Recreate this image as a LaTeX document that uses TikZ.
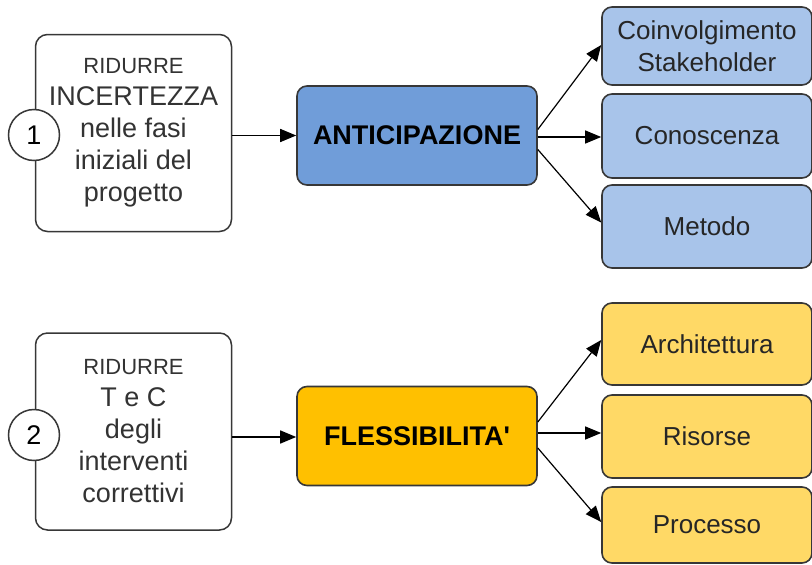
\documentclass[tikz,border=0pt]{standalone}
\usepackage{fontspec}
\setmainfont{Liberation Sans}
% same family without TeX quote ligatures, for a straight apostrophe
\newfontfamily\straightsans{Liberation Sans}
\usetikzlibrary{arrows.meta,calc}

\definecolor{boxline}{RGB}{55,55,55}
\definecolor{antifill}{RGB}{112,157,217}
\definecolor{antilight}{RGB}{168,196,234}
\definecolor{flexfill}{RGB}{255,192,0}
\definecolor{flexlight}{RGB}{255,217,102}

\tikzset{
  goalbox/.style={draw=boxline, line width=1.5pt, fill=white, rounded corners=12pt,
    align=center, inner sep=0pt, font=\fontsize{27}{32}\selectfont, text=black!80},
  mainbox/.style={draw=boxline, line width=1.6pt, rounded corners=10pt,
    minimum width=240pt, minimum height=99pt, inner sep=0pt,
    font=\bfseries\fontsize{27}{30}\selectfont},
  leafbox/.style={draw=boxline, line width=1.6pt, rounded corners=10pt,
    minimum width=210pt, inner sep=0pt, align=center,
    font=\fontsize{26}{32}\selectfont, text=black!85},
  numcircle/.style={circle, draw=boxline, line width=1.5pt, fill=white,
    minimum size=51pt, inner sep=0pt, font=\fontsize{27}{30}\selectfont},
  link/.style={line width=1.5pt, -{Triangle[length=16pt,width=13pt]}},
  branch/.style={line width=1.2pt, -{Triangle[length=16pt,width=13pt]}}
}

\begin{document}
\begin{tikzpicture}[x=1pt,y=-1pt]
\useasboundingbox (0,0) rectangle (812,565);

% ---- first row: uncertainty reduction
\node[goalbox, minimum width=196pt, minimum height=197pt] (g1) at (133.5,133)
  {{\fontsize{22}{32}\selectfont RIDURRE}\\INCERTEZZA\\nelle fasi\\iniziali del\\progetto};
\node[numcircle] (n1) at (34,135) {1};

\node[mainbox, fill=antifill] (anti) at (417,135.5) {ANTICIPAZIONE};

\node[leafbox, fill=antilight, minimum height=78pt] (a1) at (707,46)
  {Coinvolgimento\\Stakeholder};
\node[leafbox, fill=antilight, minimum height=84pt] (a2) at (707,136) {Conoscenza};
\node[leafbox, fill=antilight, minimum height=83pt] (a3) at (707,226.5) {Metodo};

\coordinate (antimid) at ([yshift=-1.5pt]anti.east);
\draw[link] (g1.east |- anti.west) -- (anti.west);
\draw[branch] ([yshift=6pt]anti.east) -- ([yshift=1pt]a1.west);
\draw[branch] (antimid) -- (antimid -| a2.west);
\draw[branch] ([yshift=-14pt]anti.east) -- ([yshift=4pt]a3.west);

% ---- second row: corrective actions
\node[goalbox, minimum width=196pt, minimum height=197pt] (g2) at (133.5,431.5)
  {{\fontsize{22}{32}\selectfont RIDURRE}\\T e C\\degli\\interventi\\correttivi};
\node[numcircle] (n2) at (34,435) {2};

\node[mainbox, fill=flexfill] (flex) at (417,436) {FLESSIBILITA{\straightsans\bfseries '}};

\node[leafbox, fill=flexlight, minimum height=82pt] (f1) at (707,344) {Architettura};
\node[leafbox, fill=flexlight, minimum height=83pt] (f2) at (707,436.5) {Risorse};
\node[leafbox, fill=flexlight, minimum height=76pt] (f3) at (707,525) {Processo};

\coordinate (flexin) at ([yshift=-1pt]flex.west);
\coordinate (flexmid) at ([yshift=3pt]flex.east);
\draw[link] (flexin -| g2.east) -- (flexin);
\draw[branch] ([yshift=14pt]flex.east) -- ([yshift=4pt]f1.west);
\draw[branch] (flexmid) -- (flexmid -| f2.west);
\draw[branch] ([yshift=-12pt]flex.east) -- ([yshift=3pt]f3.west);
\end{tikzpicture}
\end{document}
